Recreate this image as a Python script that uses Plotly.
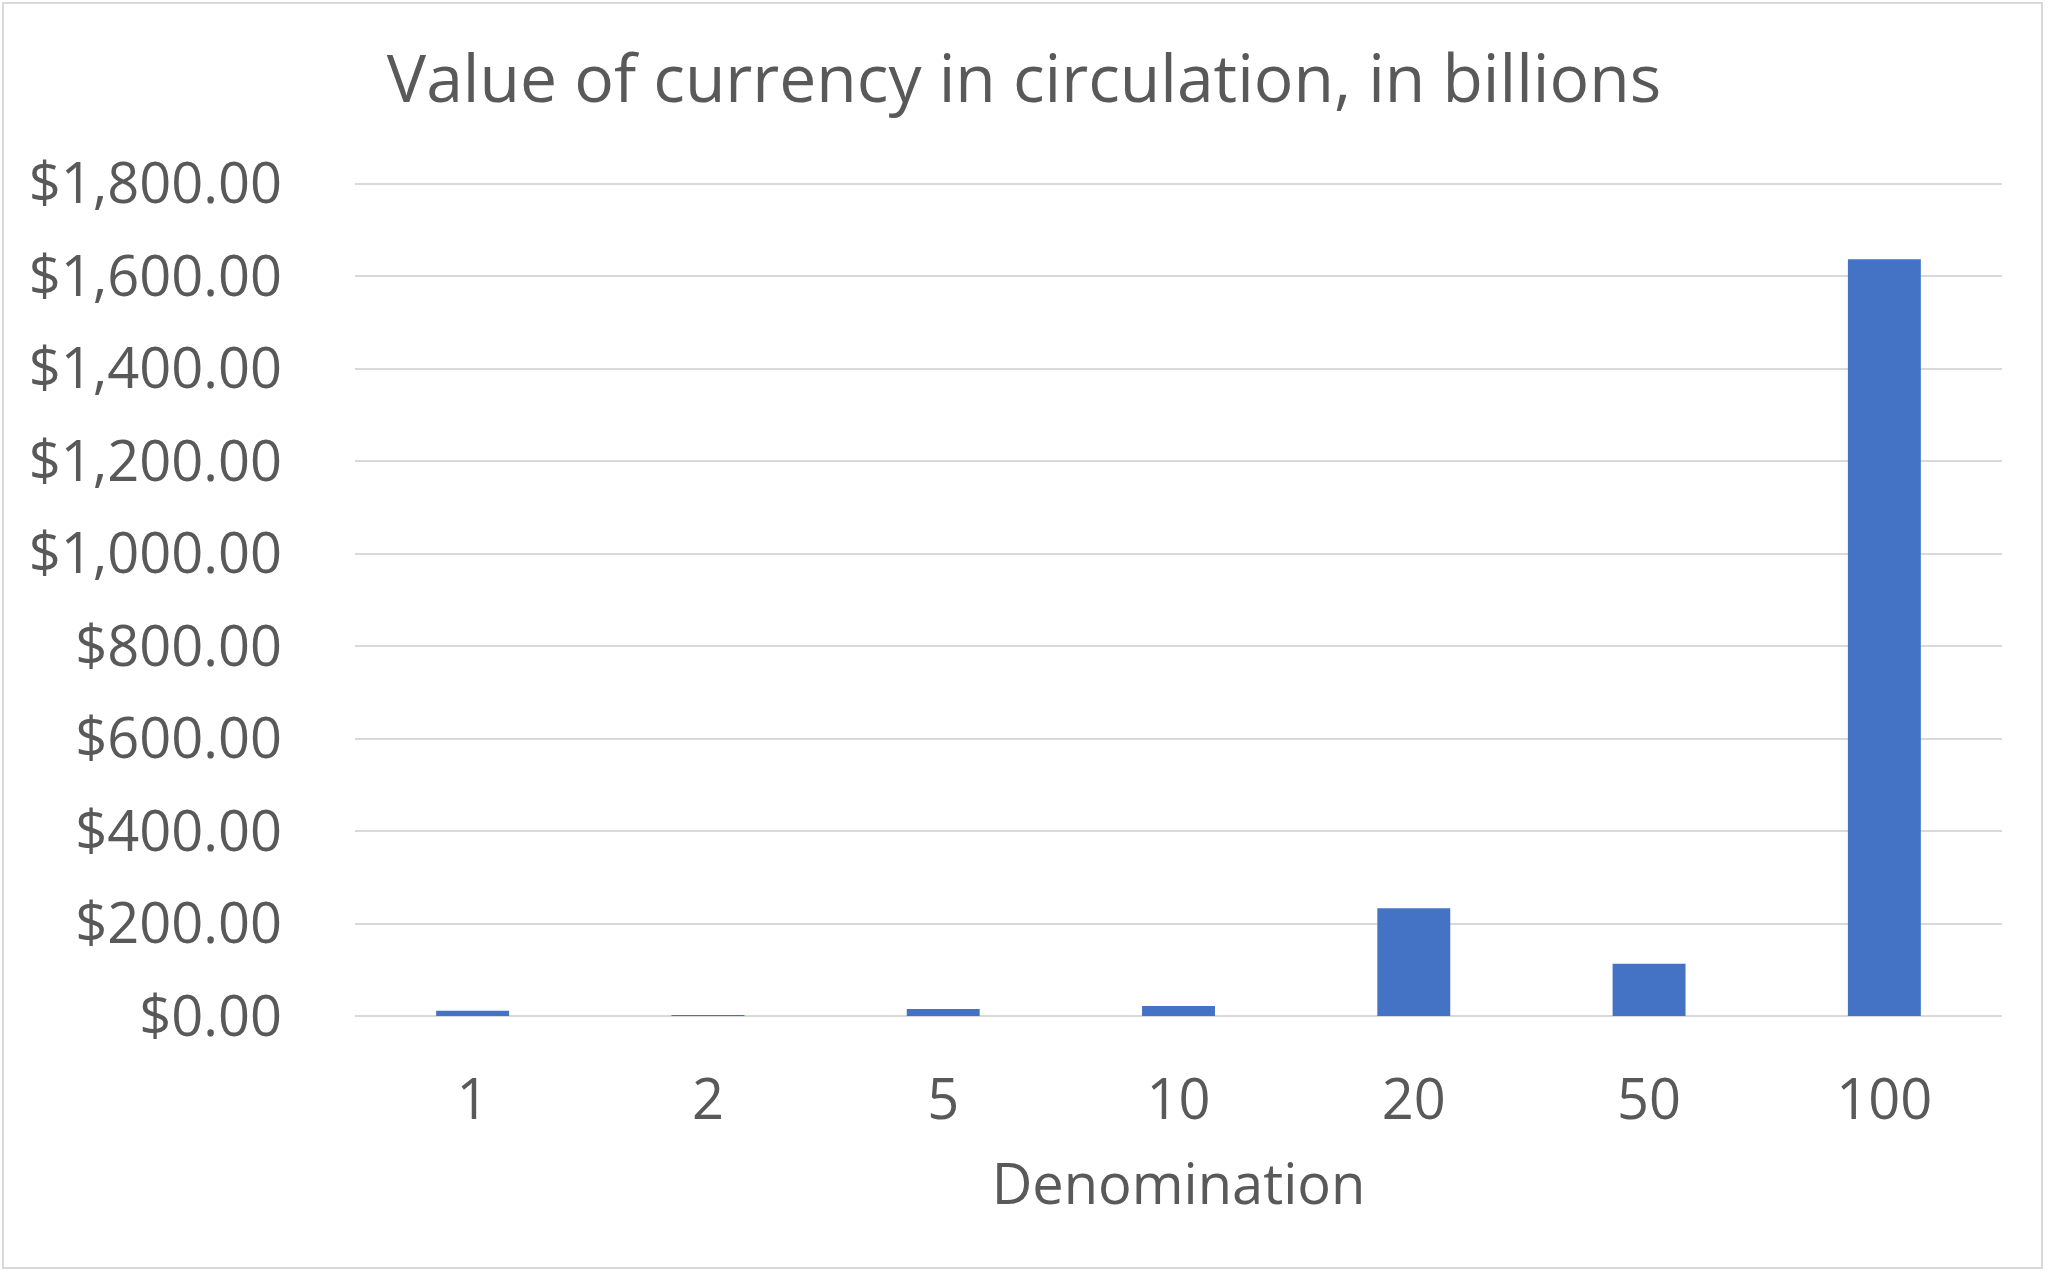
import plotly.graph_objects as go

# Data
denominations = ["1", "2", "5", "10", "20", "50", "100"]
values_billions = [11.5, 2.0, 15.0, 21.5, 233.0, 113.0, 1637.0]

y_ticks = [0, 200, 400, 600, 800, 1000, 1200, 1400, 1600, 1800]

TEXT = "#595959"
GRID = "#d9d9d9"
BAR = "#4472C4"
FONT = "Open Sans"

W, H = 2048, 1271
L, R, T, B = 355, 46, 181, 255

fig = go.Figure(
    go.Bar(
        x=denominations,
        y=values_billions,
        marker=dict(color=BAR, line=dict(width=0)),
    )
)

# light frame around the whole chart area (computed from margins)
pw, ph = W - L - R, H - T - B
def px_to_paper_x(px):
    return (px - L) / pw
def px_to_paper_y(py):
    return (H - B - py) / ph

fig.add_shape(
    type="rect", xref="paper", yref="paper",
    x0=px_to_paper_x(3), x1=px_to_paper_x(W - 6),
    y0=px_to_paper_y(H - 3), y1=px_to_paper_y(3),
    line=dict(color=GRID, width=2), fillcolor="rgba(0,0,0,0)", layer="below",
)

fig.update_layout(
    width=W, height=H,
    margin=dict(l=L, r=R, t=T, b=B),
    paper_bgcolor="white", plot_bgcolor="white",
    bargap=0.69,
    showlegend=False,
    font=dict(family=FONT, color=TEXT),
    title=dict(
        text="Value of currency in circulation, in billions",
        font=dict(family=FONT, size=66, color=TEXT),
        x=0.5, xanchor="center", xref="container",
        y=1 - 79 / H, yanchor="middle", yref="container",
    ),
    xaxis=dict(
        type="category",
        showgrid=False,
        showline=False,
        zeroline=False,
        ticks="",
        tickfont=dict(family=FONT, size=56, color=TEXT),
        ticklabelstandoff=46,
        title=dict(text="Denomination", font=dict(family=FONT, size=56, color=TEXT), standoff=30),
    ),
    yaxis=dict(
        range=[0, 1806],
        tickvals=y_ticks,
        tickformat="$,.2f",
        showgrid=True, gridcolor=GRID, gridwidth=2,
        zeroline=True, zerolinecolor=GRID, zerolinewidth=2,
        showline=False,
        ticks="",
        tickfont=dict(family=FONT, size=56, color=TEXT),
        ticklabelstandoff=72,
    ),
)

fig.write_html("out.html")
